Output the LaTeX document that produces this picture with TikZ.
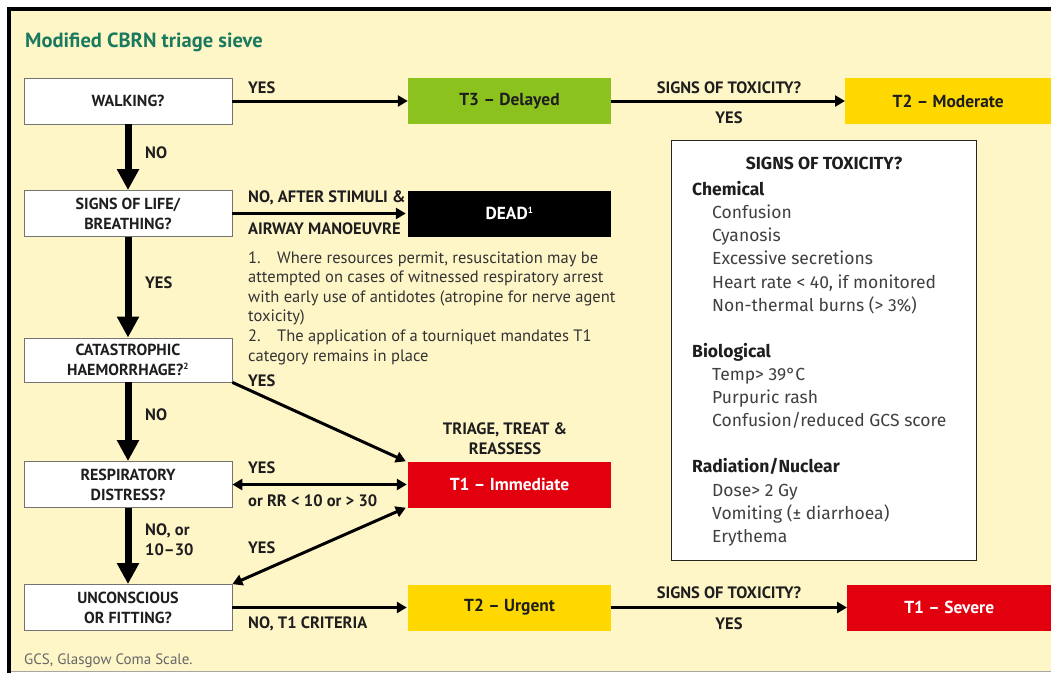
\documentclass[tikz,border=0pt]{standalone}
\usepackage{fontspec}
\setmainfont{PT Sans}
\newfontfamily\cond{PT Sans}
\newfontfamily\boxf{Fira Sans}
\usetikzlibrary{arrows.meta}
\definecolor{bgyel}{RGB}{255,246,200}
\definecolor{tgreen}{RGB}{140,194,30}
\definecolor{tyel}{RGB}{255,216,0}
\definecolor{tred}{RGB}{226,0,15}
\definecolor{teal}{RGB}{26,122,94}
\definecolor{txt}{RGB}{30,30,30}
\tikzset{
  qbox/.style={draw=black!55,line width=0.8pt,fill=white,minimum width=208pt,minimum height=46pt,inner sep=0pt,align=center,font=\cond\bfseries\fontsize{16}{20}\selectfont,text=txt},
  cbox/.style={minimum width=203pt,minimum height=46pt,inner sep=0pt,align=center,font=\cond\bfseries\fontsize{17.4}{20}\selectfont},
  lbl/.style={inner sep=0pt,font=\cond\bfseries\fontsize{16.5}{20}\selectfont,text=txt,align=left},
  fnl/.style={anchor=base west,inner sep=0pt,font=\cond\fontsize{16.5}{19}\selectfont,text=black!80},
  sitem/.style={anchor=base west,inner sep=0pt,font=\boxf\fontsize{17.5}{20}\selectfont,text=black!75},
  shead/.style={anchor=base west,inner sep=0pt,font=\boxf\bfseries\fontsize{17.5}{20}\selectfont,text=txt},
  harr/.style={line width=3pt,draw=black,-{Triangle[length=10pt,width=11pt]}},
  darr/.style={line width=3pt,draw=black,{Triangle[length=10pt,width=11pt]}-{Triangle[length=10pt,width=11pt]}},
  varr/.style={line width=7pt,draw=black,-{Triangle[length=21pt,width=21pt]}},
}
\begin{document}
\begin{tikzpicture}[x=1pt,y=-1pt]
\useasboundingbox (0,0) rectangle (1051,673);
\fill[white] (0,0) rectangle (1051,673);
\fill[bgyel] (10,10) rectangle (1051,671);
\draw[black!35,line width=1.5pt] (10,671.5) -- (1051,671.5);
\draw[black,line width=4pt] (8.5,673) -- (8.5,8.5) -- (1051,8.5);

\node[anchor=west,inner sep=0pt,font=\cond\bfseries\fontsize{20.5}{24}\selectfont,text=teal] (title) at (25,42.5) {Modified CBRN triage sieve};

% question boxes
\node[qbox] (walk) at (128,101) {WALKING?};
\node[qbox] (life) at (128,213.5) {SIGNS OF LIFE/\\BREATHING?};
\node[qbox,minimum height=44pt] (cat) at (128,360) {CATASTROPHIC\\HAEMORRHAGE?\textsuperscript{\fontsize{9}{9}\selectfont 2}};
\node[qbox] (resp) at (128,484.5) {RESPIRATORY\\DISTRESS?};
\node[qbox] (unc) at (128,607.5) {UNCONSCIOUS\\OR FITTING?};

% category boxes
\node[cbox,fill=tgreen,text=txt] (t3) at (509.5,101) {T3 – Delayed};
\node[cbox,fill=tyel,text=txt,minimum width=206pt,anchor=west] (t2m) at (845,101) {T2 – Moderate};
\node[cbox,fill=black,text=white] (dead) at (509.5,213.5) {DEAD\textsuperscript{\fontsize{9}{9}\selectfont 1}};
\node[cbox,fill=tred,text=white] (t1i) at (509.5,484.5) {T1 – Immediate};
\node[cbox,fill=tyel,text=txt] (t2u) at (509.5,607.5) {T2 – Urgent};
\node[cbox,fill=tred,text=white,minimum width=204pt,anchor=west] (t1s) at (847,607.5) {T1 – Severe};

% connectors
\draw[harr] (walk.east) -- (t3.west);
\draw[harr] (t3.east) -- (t2m.west);
\draw[harr] (life.east) -- ([xshift=-2pt]dead.west);
\draw[harr] (cat.south east) -- ([xshift=-2pt]t1i.north west);
\draw[darr] (resp.east) -- ([xshift=-1pt]t1i.west);
\draw[darr] (unc.north east) -- ([xshift=-2pt]t1i.south west);
\draw[harr] (unc.east) -- ([xshift=-1pt]t2u.west);
\draw[harr] (t2u.east) -- (t1s.west);
\draw[varr] (walk.south) -- (life.north);
\draw[varr] (life.south) -- (cat.north);
\draw[varr] (cat.south) -- (resp.north);
\draw[varr] (resp.south) -- (unc.north);

% labels
\node[lbl,anchor=west] (l1) at (248,88) {YES};
\node[lbl] (l2) at (729,88) {SIGNS OF TOXICITY?};
\node[lbl] (l3) at (729,118) {YES};
\node[lbl,anchor=west] (l4) at (145,153) {NO};
\node[lbl,anchor=west] (l5) at (248,198) {NO, AFTER STIMULI \&};
\node[lbl,anchor=west] (l6) at (248,229) {AIRWAY MANOEUVRE};
\node[lbl,anchor=west] (l7) at (145,283) {YES};
\node[lbl,anchor=west] (l8) at (248,381) {YES};
\node[lbl,anchor=west] (l9) at (145,415) {NO};
\node[lbl,align=center] (l10) at (505,439) {TRIAGE, TREAT \&\\REASSESS};
\node[lbl,anchor=west] (l11) at (248,468) {YES};
\node[lbl,anchor=west] (l12) at (248,501) {or RR < 10 or > 30};
\node[lbl,anchor=west] (l13) at (145,539.5) {NO, or\\10–30};
\node[lbl,anchor=west] (l14) at (248,548) {YES};
\node[lbl,anchor=west] (l15) at (248,624) {NO, T1 CRITERIA};
\node[lbl] (l16) at (729,593) {SIGNS OF TOXICITY?};
\node[lbl] (l17) at (729,624) {YES};

% footnotes
\node[fnl] (fn1) at (248,263) {1.\quad Where resources permit, resuscitation may be};
\node[fnl] (fn2) at (248,282.5) {attempted on cases of witnessed respiratory arrest};
\node[fnl] (fn3) at (248,302) {with early use of antidotes (atropine for nerve agent};
\node[fnl] (fn4) at (248,321.5) {toxicity)};
\node[fnl] (fn5) at (248,341.5) {2.\quad The application of a tourniquet mandates T1};
\node[fnl] (fn6) at (248,361) {category remains in place};

% signs of toxicity box
\node[draw=black!85,line width=1.2pt,fill=white,minimum width=305pt,minimum height=420pt,anchor=north west,inner sep=0pt] (signs) at (671,140) {};
\node[inner sep=0pt,font=\boxf\bfseries\fontsize{17.5}{20}\selectfont,text=txt] (st) at (824,163) {SIGNS OF TOXICITY?};
\node[shead] (h1) at (692,195) {Chemical};
\node[sitem] (c1) at (712,218) {Confusion};
\node[sitem] (c2) at (712,241) {Cyanosis};
\node[sitem] (c3) at (712,264) {Excessive secretions};
\node[sitem] (c4) at (712,288) {Heart rate < 40, if monitored};
\node[sitem] (c5) at (712,311) {Non-thermal burns (> 3\%)};
\node[shead] (h2) at (692,357) {Biological};
\node[sitem] (b1) at (712,380) {Temp> 39°C};
\node[sitem] (b2) at (712,403) {Purpuric rash};
\node[sitem] (b3) at (712,426) {Confusion/reduced GCS score};
\node[shead] (h3) at (692,472) {Radiation/Nuclear};
\node[sitem] (r1) at (712,496) {Dose> 2 Gy};
\node[sitem] (r2) at (712,519) {Vomiting (± diarrhoea)};
\node[sitem] (r3) at (712,542) {Erythema};

\node[anchor=west,inner sep=0pt,font=\cond\fontsize{15}{17}\selectfont,text=black!60] (gcs) at (24,661) {GCS, Glasgow Coma Scale.};
\end{tikzpicture}
\end{document}
